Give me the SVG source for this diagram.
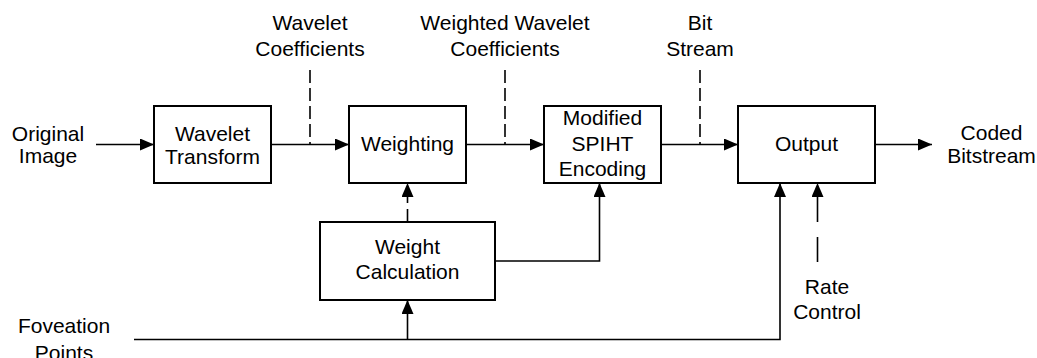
<svg xmlns="http://www.w3.org/2000/svg" width="1037" height="358" viewBox="0 0 1037 358">
<defs>
<marker id="arr" markerUnits="userSpaceOnUse" markerWidth="15" markerHeight="13" refX="14" refY="6" orient="auto">
<path d="M0,0 L14,6 L0,12 Z" fill="#000"/>
</marker>
<style>
.box{fill:#fff;stroke:#000;stroke-width:2}
.ln{fill:none;stroke:#000;stroke-width:1.6}
.da{fill:none;stroke:#000;stroke-width:1.6;stroke-dasharray:13,5}
text{font-family:"Liberation Sans",Arial,sans-serif;font-size:21px;fill:#000;text-anchor:middle}
</style>
</defs>
<rect width="1037" height="358" fill="#fff"/>
<g id="connectors">
<line class="ln" x1="96" y1="144.5" x2="154" y2="144.5" marker-end="url(#arr)"/>
<line class="ln" x1="271" y1="144.5" x2="349" y2="144.5" marker-end="url(#arr)"/>
<line class="ln" x1="466" y1="144.5" x2="544" y2="144.5" marker-end="url(#arr)"/>
<line class="ln" x1="661" y1="144.5" x2="738" y2="144.5" marker-end="url(#arr)"/>
<line class="ln" x1="875" y1="144.5" x2="932" y2="144.5" marker-end="url(#arr)"/>
<line class="da" x1="310" y1="70" x2="310" y2="144.5"/>
<line class="da" x1="505" y1="70" x2="505" y2="144.5"/>
<line class="da" x1="700" y1="70" x2="700" y2="144.5"/>
<line class="ln" x1="407.5" y1="222" x2="407.5" y2="183" stroke-dasharray="13,6" marker-end="url(#arr)"/>
<polyline class="ln" points="134,339.5 780,339.5 780,183" marker-end="url(#arr)"/>
<line class="ln" x1="407.5" y1="339.5" x2="407.5" y2="300" marker-end="url(#arr)"/>
<polyline class="ln" points="495,261 599.5,261 599.5,183" marker-end="url(#arr)"/>
<line class="ln" x1="817.5" y1="262" x2="817.5" y2="183" stroke-dasharray="25,15" marker-end="url(#arr)"/>
</g>
<g id="wavelet-transform">
<rect class="box" x="154" y="106" width="117" height="77"/>
<text x="212.5" y="141">Wavelet</text>
<text x="212.5" y="164">Transform</text>
</g>
<g id="weighting">
<rect class="box" x="349" y="106" width="117" height="77"/>
<text x="407.5" y="151">Weighting</text>
</g>
<g id="spiht">
<rect class="box" x="544" y="106" width="117" height="77"/>
<text x="602.5" y="125">Modified</text>
<text x="602.5" y="151">SPIHT</text>
<text x="602.5" y="176">Encoding</text>
</g>
<g id="output">
<rect class="box" x="738" y="106" width="137" height="77"/>
<text x="806.5" y="151">Output</text>
</g>
<g id="weight-calculation">
<rect class="box" x="320" y="222" width="175" height="78"/>
<text x="407.5" y="254">Weight</text>
<text x="407.5" y="279">Calculation</text>
</g>
<g id="labels">
<text x="48" y="141">Original</text>
<text x="48" y="163">Image</text>
<text x="310" y="30">Wavelet</text>
<text x="310" y="56">Coefficients</text>
<text x="505" y="30">Weighted Wavelet</text>
<text x="505" y="56">Coefficients</text>
<text x="700" y="30">Bit</text>
<text x="700" y="56">Stream</text>
<text x="991.5" y="140">Coded</text>
<text x="991.5" y="163">Bitstream</text>
<text x="64" y="333">Foveation</text>
<text x="64" y="360">Points</text>
<text x="827" y="294">Rate</text>
<text x="827" y="319">Control</text>
</g>
</svg>
